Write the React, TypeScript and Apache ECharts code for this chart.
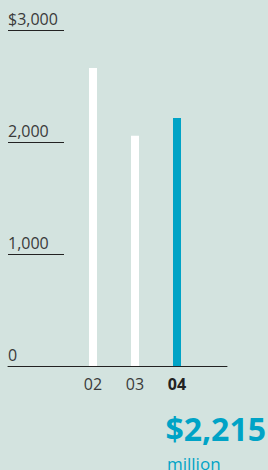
import React, { useEffect, useRef } from "react";
import * as echarts from "echarts";

const categories = ["02", "03", "04"];
const revenue = [2660, 2055, 2215];
const barColors = ["#ffffff", "#ffffff", "#00a3c6"];
const yTickValues = [0, 1000, 2000, 3000];
const yTickLabels = ["0", "1,000", "2,000", "$3,000"];
const highlightValue = "$2,215";
const highlightUnit = "million";

const FONT = "'Open Sans', sans-serif";
const TEAL = "#00a3c6";

export default function App() {
  const ref = useRef<HTMLDivElement>(null);
  useEffect(() => {
    if (!ref.current) return;
    const chart = echarts.init(ref.current, undefined, { renderer: "svg" });
    const top = 30;
    const height = 336;
    chart.setOption({
      animation: false,
      backgroundColor: "#d3e3df",
      grid: [
        { left: 8, top, width: 56, height },
        { left: 8, top, width: 219, height },
        { left: 72, top, width: 126, height },
      ],
      xAxis: [
        { gridIndex: 0, type: "value", show: false },
        {
          gridIndex: 1,
          type: "value",
          axisLine: { show: true, lineStyle: { color: "#222", width: 1 } },
          axisTick: { show: false },
          axisLabel: { show: false },
          splitLine: { show: false },
        },
        {
          gridIndex: 2,
          type: "category",
          data: categories,
          axisLine: { show: false },
          axisTick: { show: false },
          axisLabel: {
            interval: 0,
            margin: 10,
            color: "#3a3a3a",
            fontFamily: FONT,
            fontSize: 16,
            formatter: (v: string, i: number) =>
              i === categories.length - 1 ? `{b|${v}}` : v,
            rich: {
              b: { fontWeight: "bold", color: "#222", fontSize: 16, fontFamily: FONT },
            },
          },
        },
      ],
      yAxis: [
        {
          gridIndex: 0,
          type: "value",
          min: 0,
          max: 3000,
          interval: 1000,
          axisLine: { show: false },
          axisTick: { show: false },
          splitLine: { show: true, lineStyle: { color: "#222", width: 1 } },
          axisLabel: {
            inside: true,
            margin: 0,
            align: "left",
            verticalAlign: "bottom",
            padding: [0, 0, 3, 0],
            color: "#3a3a3a",
            fontFamily: FONT,
            fontSize: 16,
            formatter: (v: number) => yTickLabels[yTickValues.indexOf(v)] ?? "",
          },
        },
        { gridIndex: 1, type: "value", min: 0, max: 3000, show: false },
        { gridIndex: 2, type: "value", min: 0, max: 3000, show: false },
      ],
      series: [
        {
          type: "bar",
          xAxisIndex: 2,
          yAxisIndex: 2,
          barWidth: 8,
          data: revenue.map((v, i) => ({ value: v, itemStyle: { color: barColors[i] } })),
        },
      ],
      graphic: [
        {
          type: "text",
          right: 2,
          top: 412,
          style: {
            text: highlightValue,
            fill: TEAL,
            font: `bold 32px ${FONT}`,
          },
        },
        {
          type: "text",
          left: 167,
          top: 455,
          style: {
            text: highlightUnit,
            fill: TEAL,
            font: `17px ${FONT}`,
          },
        },
      ],
    });
    return () => chart.dispose();
  }, []);
  return (
    <div
      ref={ref}
      style={{ position: "fixed", left: 0, top: 0, width: 268, height: 470 }}
    />
  );
}
